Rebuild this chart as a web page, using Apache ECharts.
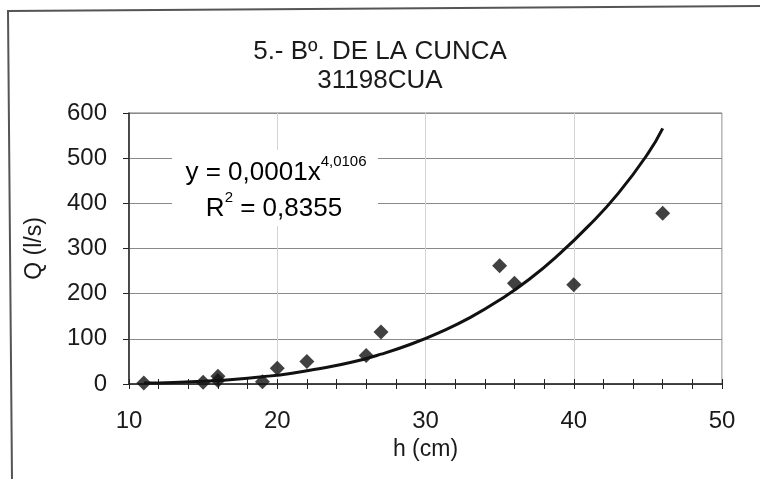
<!DOCTYPE html>
<html>
<head>
<meta charset="utf-8">
<script src="https://cdn.jsdelivr.net/npm/echarts@6/dist/echarts.min.js"></script>
<style>
html,body{margin:0;padding:0;background:#fff;}
#chart{width:760px;height:479px;}
</style>
</head>
<body>
<div id="chart"></div>
<script>
// Observed points: h (cm) and Q (l/s)
var hValues = [11, 15, 16, 16, 19, 20, 22, 26, 27, 35, 36, 40, 46];
var qValues = [2, 4, 8, 17, 5, 35, 50, 63, 115, 262, 223, 220, 378];

// Trend curve
var trendH = [11, 13, 15, 17, 19, 21, 23, 25, 27, 29, 31, 33, 35, 37, 39, 41, 43, 45, 46];
var trendQ = [2, 3.5, 6, 10, 16, 24, 35, 48, 66, 88, 115, 147, 186, 232, 287, 350, 422, 510, 566];

var titleLines = ['5.- Bº. DE LA CUNCA', '31198CUA'];
var xTicks = [10, 20, 30, 40, 50];
var yTicks = [0, 100, 200, 300, 400, 500, 600];
var eqCoef = '0,0001';
var eqExp = '4,0106';
var r2Text = '0,8355';

var font = '"Liberation Sans", Arial, sans-serif';

var scatterData = hValues.map(function (h, i) { return [h, qValues[i]]; });
var trendData = trendH.map(function (h, i) { return [h, trendQ[i]]; });

var chart = echarts.init(document.getElementById('chart'), null, {renderer: 'canvas'});

var option = {
  backgroundColor: '#ffffff',
  animation: false,
  title: {
    text: titleLines.join('\n'),
    left: 'center',
    top: 32,
    padding: [5, 0, 5, 12],
    textStyle: {
      fontFamily: font,
      fontSize: 26,
      fontWeight: 'normal',
      color: '#1a1a1a',
      lineHeight: 29
    }
  },
  grid: {
    left: 129,
    right: 38,
    top: 113,
    bottom: 95,
    show: true,
    borderColor: '#777',
    borderWidth: 1,
    backgroundColor: 'transparent'
  },
  xAxis: [{
    type: 'value',
    min: xTicks[0],
    max: xTicks[xTicks.length - 1],
    interval: 10,
    name: 'h (cm)',
    nameLocation: 'middle',
    nameGap: 52,
    nameTextStyle: {fontFamily: font, fontSize: 23, color: '#1a1a1a'},
    axisLine: {show: true, onZero: false, lineStyle: {color: '#222', width: 1.5}},
    axisTick: {show: true, length: 5, lineStyle: {color: '#222'}},
    minorTick: {show: true, splitNumber: 5, length: 5, lineStyle: {color: '#222'}},
    axisLabel: {fontFamily: font, fontSize: 24, color: '#1a1a1a', margin: 25},
    splitLine: {show: true, lineStyle: {color: '#d4d4d4', width: 1}}
  }, {
    type: 'value',
    position: 'bottom',
    min: xTicks[0],
    max: xTicks[xTicks.length - 1],
    interval: 10,
    axisLine: {show: false},
    axisTick: {show: true, inside: true, length: 5, lineStyle: {color: '#222'}},
    minorTick: {show: true, splitNumber: 5, length: 5, lineStyle: {color: '#222'}},
    axisLabel: {show: false},
    splitLine: {show: false}
  }],
  yAxis: {
    type: 'value',
    min: yTicks[0],
    max: yTicks[yTicks.length - 1],
    interval: 100,
    name: 'Q (l/s)',
    nameLocation: 'middle',
    nameGap: 83,
    nameTextStyle: {fontFamily: font, fontSize: 23, color: '#1a1a1a'},
    axisLine: {show: true, lineStyle: {color: '#222', width: 1.5}},
    axisTick: {show: true, length: 6, lineStyle: {color: '#222'}},
    axisLabel: {fontFamily: font, fontSize: 24, color: '#1a1a1a', margin: 22},
    splitLine: {show: true, lineStyle: {color: '#8a8a8a', width: 1}}
  },
  graphic: [
    {
      type: 'polyline',
      z: 10,
      shape: {points: [[12, 479], [8, 11], [760, 6]]},
      style: {stroke: '#555', lineWidth: 2, fill: null}
    },
    {
      type: 'rect',
      z: 1,
      shape: {x: 172, y: 150, width: 206, height: 76},
      style: {fill: '#ffffff'}
    },
    {
      type: 'text',
      z: 3,
      x: 276,
      y: 173,
      style: {
        text: '{a|y = ' + eqCoef + 'x}{b|' + eqExp + '}',
        align: 'center',
        verticalAlign: 'middle',
        rich: {
          a: {fontFamily: font, fontSize: 26, color: '#1a1a1a', lineHeight: 38},
          b: {fontFamily: font, fontSize: 15, color: '#1a1a1a', lineHeight: 15, verticalAlign: 'top'}
        }
      }
    },
    {
      type: 'text',
      z: 3,
      x: 274,
      y: 209,
      style: {
        text: '{a|R}{b|2}{a| = ' + r2Text + '}',
        align: 'center',
        verticalAlign: 'middle',
        rich: {
          a: {fontFamily: font, fontSize: 26, color: '#1a1a1a', lineHeight: 38},
          b: {fontFamily: font, fontSize: 15, color: '#1a1a1a', lineHeight: 15, verticalAlign: 'top'}
        }
      }
    }
  ],
  series: [
    {
      name: 'Trend',
      type: 'line',
      data: trendData,
      smooth: true,
      showSymbol: false,
      symbol: 'none',
      lineStyle: {color: '#111', width: 3},
      z: 3
    },
    {
      name: 'Q',
      type: 'scatter',
      data: scatterData,
      symbol: 'diamond',
      symbolSize: 15,
      itemStyle: {color: '#111'},
      z: 4
    }
  ]
};

chart.setOption(option);
</script>
</body>
</html>
